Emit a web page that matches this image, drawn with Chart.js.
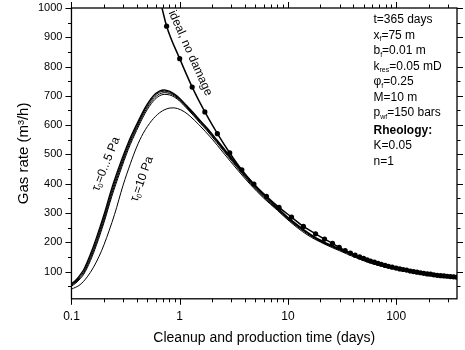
<!DOCTYPE html>
<html><head><meta charset="utf-8">
<script src="https://cdn.jsdelivr.net/npm/chart.js@4.4.1/dist/chart.umd.min.js"></script>
<style>html,body{margin:0;padding:0;background:#fff}</style>
</head><body>
<canvas id="c" width="465" height="350"></canvas>
<script>
const FONT = "'Liberation Sans', Arial, Helvetica, sans-serif";

// axis ticks
const xTickValues = [0.1, 1, 10, 100];
const xTickLabels = ['0.1', '1', '10', '100'];
const xMinorTicks = [0.2,0.3,0.4,0.5,0.6,0.7,0.8,0.9,2,3,4,5,6,7,8,9,20,30,40,50,60,70,80,90,200,300];
const yTickValues = [100,200,300,400,500,600,700,800,900,1000];
const yMinorTicks = [50,150,250,350,450,550,650,750,850,950];

// ideal, no damage (first entry is where the line leaves the top)
const tIdeal = [0.686,0.757,1.0,1.304,1.708,2.23,2.90,3.75,4.85,6.33,8.28,10.8,13.9,18.0,21.8,25.8,29.8,33.8,37.8,41.8,46,50,54,58,63,68,73,79,85,92,100,108,116,125,135,145,156,168,180,194,208,223,240,258,277,297,318,340,365];
const qIdeal = [1000,938,827,730,645,571,505,447,399,357,319,286,254,229,211,196,183,172,163,156,150,145,140,136,132,128,125,121,118,115,112,109,107,105,102,100,98,96,94,92,91,89,87,86,85,84,83,82,81];

// tau0 = 0 ... 5 Pa (four curves, common time base)
const tGroup = [0.1,0.11,0.12,0.13,0.15,0.17,0.2,0.236,0.28,0.335,0.4,0.48,0.57,0.65,0.72,0.81,0.9,1.0,1.15,1.33,1.55,1.77,2.2,2.8,3.5,4.5,6,8,10,13,17,22,30,40,50,70,100,150,200,280,365];
const qTauA = [58,71,88,107,160,215,295,385,465,540,602,660,700,716,720,715,705,691,668,643,615,592,550,502,458,410,362,318,285,252,222,200,178,158,142,124,111,99,92,85,80];
const qTauB = [55,67,83,101,152,206,285,375,455,532,595,654,695,712,716,712,702,688,665,640,612,589,547,499,455,407,359,316,283,250,220,198,176,157,141,123,110,98,91,85,80];
const qTauC = [53,64,79,96,145,198,276,366,447,525,589,648,689,706,711,708,699,685,662,637,609,586,544,496,452,404,356,313,281,248,219,197,175,156,140,122,110,98,91,84,79];
const qTauD = [50,61,75,91,138,190,268,357,438,517,582,641,682,700,705,703,695,682,659,634,606,583,541,493,449,401,353,311,279,246,217,195,174,155,139,122,109,97,90,84,79];

// tau0 = 10 Pa
const tTau10 = [0.1,0.12,0.14,0.16,0.18,0.2,0.25,0.3,0.35,0.4,0.46,0.55,0.65,0.75,0.85,0.95,1.1,1.25,1.5,2,2.5,3.5,4.5,6,8,10.3,15,22,30,50,70,100,150,200,280,365];
const qTau10 = [40,55,82,115,152,192,295,395,468,525,572,615,642,655,659,657,646,630,602,552,508,443,397,350,309,272,226,193,171,137,120,108,96,90,83,78];

const zip = (ts, qs) => ts.map((t, i) => ({x: t, y: qs[i]}));

function richText(ctx, x, y, parts, size, bold) {
  let cx = x;
  for (const p of parts) {
    const sub = p.sub;
    ctx.font = (bold ? 'bold ' : '') + (sub ? Math.round(size * 0.62) : size) + 'px ' + FONT;
    ctx.fillText(p.t, cx, y + (sub ? size * 0.3 : 0));
    cx += ctx.measureText(p.t).width;
  }
  return cx - x;
}
function measureRich(ctx, parts, size, bold) {
  let w = 0;
  for (const p of parts) {
    ctx.font = (bold ? 'bold ' : '') + (p.sub ? Math.round(size * 0.62) : size) + 'px ' + FONT;
    w += ctx.measureText(p.t).width;
  }
  return w;
}

const infoLines = [
  {parts: [{t: 't=365 days'}]},
  {parts: [{t: 'x'}, {t: 'f', sub: true}, {t: '=75 m'}]},
  {parts: [{t: 'b'}, {t: 'f', sub: true}, {t: '=0.01 m'}]},
  {parts: [{t: 'k'}, {t: 'res', sub: true}, {t: '=0.05 mD'}]},
  {parts: [{t: 'φ'}, {t: 'f', sub: true}, {t: '=0.25'}]},
  {parts: [{t: 'M=10 m'}]},
  {parts: [{t: 'p'}, {t: 'wf', sub: true}, {t: '=150 bars'}]},
  {parts: [{t: 'Rheology:'}], bold: true, gap: 2},
  {parts: [{t: 'K=0.05'}]},
  {parts: [{t: 'n=1'}]}
];

const curveLabels = [
  {t: 1.25, q: 846, angle: 66, parts: [{t: 'ideal, no damage'}]},
  {t: 0.209, q: 467, angle: -68, parts: [{t: 'τ'}, {t: '0', sub: true}, {t: '=0...5 Pa'}]},
  {t: 0.448, q: 416, angle: -70, parts: [{t: 'τ'}, {t: '0', sub: true}, {t: '=10 Pa'}]}
];

const decor = {
  id: 'decor',
  afterDatasetsDraw(chart) {
    const {ctx, chartArea: a, scales: {x, y}} = chart;
    ctx.save();
    ctx.fillStyle = '#000';
    ctx.textBaseline = 'middle';
    ctx.textAlign = 'left';
    let ly = a.top + 12;
    for (const l of infoLines) {
      if (l.gap) ly += l.gap;
      richText(ctx, a.left + 302, ly, l.parts, 12, l.bold);
      ly += 15.5;
    }
    for (const c of curveLabels) {
      const px = x.getPixelForValue(c.t), py = y.getPixelForValue(c.q);
      ctx.save();
      ctx.translate(px, py);
      ctx.rotate(c.angle * Math.PI / 180);
      const w = measureRich(ctx, c.parts, 12);
      richText(ctx, -w / 2, 0, c.parts, 12);
      ctx.restore();
    }
    ctx.restore();
  },
  afterDraw(chart) {
    const {ctx, chartArea: a, scales: {x, y}} = chart;
    ctx.save();
    ctx.strokeStyle = '#000';
    ctx.lineWidth = 1.3;
    ctx.strokeRect(a.left, a.top, a.right - a.left, a.bottom - a.top);
    ctx.lineWidth = 1;
    ctx.beginPath();
    const xt = (v, len) => {
      const px = Math.round(x.getPixelForValue(v)) + 0.5;
      ctx.moveTo(px, a.bottom); ctx.lineTo(px, a.bottom + len);
      ctx.moveTo(px, a.top); ctx.lineTo(px, a.top - len);
    };
    const yt = (v, len) => {
      const py = Math.round(y.getPixelForValue(v)) + 0.5;
      ctx.moveTo(a.left, py); ctx.lineTo(a.left - len, py);
      ctx.moveTo(a.right, py); ctx.lineTo(a.right + len, py);
    };
    xTickValues.forEach(v => xt(v, 6));
    xMinorTicks.forEach(v => xt(v, 3.5));
    yTickValues.forEach(v => yt(v, 6));
    yMinorTicks.forEach(v => yt(v, 3.5));
    ctx.stroke();
    ctx.restore();
  }
};

const lineDs = (data, w) => ({
  data, borderColor: '#000', borderWidth: w, pointRadius: 0,
  cubicInterpolationMode: 'monotone', fill: false
});

new Chart(document.getElementById('c'), {
  type: 'line',
  data: {
    datasets: [
      {
        data: zip(tIdeal, qIdeal), borderColor: '#000', borderWidth: 1.5,
        pointRadius: c => (c.dataIndex === 0 ? 0 : 2.6),
        pointBackgroundColor: '#000', pointBorderWidth: 0,
        cubicInterpolationMode: 'monotone', fill: false
      },
      lineDs(zip(tGroup, qTauA), 1.4),
      lineDs(zip(tGroup, qTauB), 1),
      lineDs(zip(tGroup, qTauC), 1),
      lineDs(zip(tGroup, qTauD), 1),
      lineDs(zip(tTau10, qTau10), 1)
    ]
  },
  options: {
    responsive: false,
    animation: false,
    devicePixelRatio: 1,
    layout: {padding: {left: 0, right: 8, top: 8, bottom: 3}},
    plugins: {legend: {display: false}, tooltip: {enabled: false}},
    scales: {
      x: {
        type: 'logarithmic', min: 0.1, max: 365,
        grid: {display: false, drawTicks: false},
        border: {display: false},
        afterBuildTicks: s => { s.ticks = xTickValues.map(v => ({value: v})); },
        afterFit: s => { s.paddingLeft = 0; s.paddingRight = 0; },
        ticks: {
          autoSkip: false, maxRotation: 0, padding: 11, color: '#000',
          font: {family: FONT, size: 12},
          callback: v => { const i = xTickValues.indexOf(v); return i >= 0 ? xTickLabels[i] : ''; }
        },
        title: {display: true, text: 'Cleanup and production time (days)', color: '#000',
          font: {family: FONT, size: 14}, padding: {top: -5, bottom: 0}}
      },
      y: {
        type: 'linear', min: 7, max: 1000,
        grid: {display: false, drawTicks: false},
        border: {display: false},
        afterBuildTicks: s => { s.ticks = yTickValues.map(v => ({value: v})); },
        afterFit: s => { s.paddingTop = 0; s.paddingBottom = 0; },
        ticks: {padding: 9, color: '#000', font: {family: FONT, size: 11}, callback: v => String(v)},
        title: {display: true, text: 'Gas rate (m³/h)', color: '#000',
          font: {family: FONT, size: 15}, padding: {top: 15, bottom: -4}}
      }
    }
  },
  plugins: [decor]
});
</script>
</body></html>
